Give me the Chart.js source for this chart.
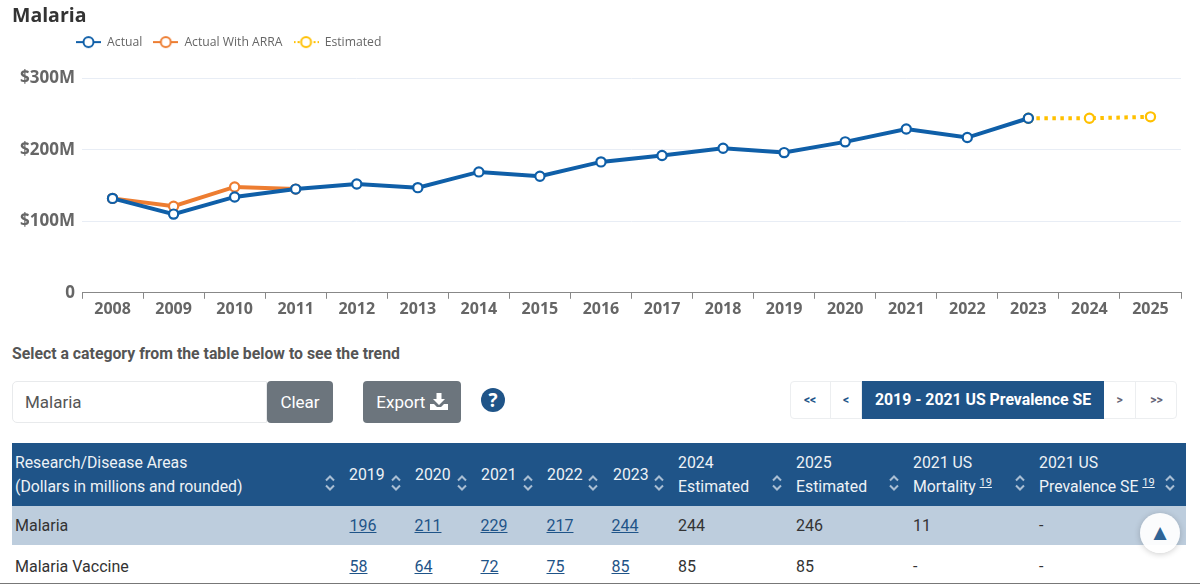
<!DOCTYPE html>
<html><head><meta charset="utf-8">
<script src="https://cdn.jsdelivr.net/npm/chart.js@4"></script>
<style>
html,body{margin:0;padding:0;background:#fff;overflow:hidden}
body{width:1200px;height:584px;position:relative;font-family:Roboto,sans-serif;color:#333}
#cv{position:absolute;left:0;top:0;width:1200px;height:320px}
.a{position:absolute;white-space:nowrap}
#title{left:12px;top:1px;font:700 19.5px "Open Sans",sans-serif;color:#333}
#sel{left:12px;top:344px;font:700 15.8px Roboto;color:#555}
#inp{left:12px;top:381px;width:255px;height:42px;box-sizing:border-box;border:1px solid #e8eaec;border-radius:5px 0 0 5px;font:17px/40px Roboto;padding-left:12px;color:#555}
.btn{background:#6c757d;color:#fff;border-radius:4px;font:17px/42px Roboto;text-align:center;height:42px;top:381px}
#help{left:481px;top:388px;width:24px;height:24px;border-radius:50%;background:#1f5488;color:#fff;font:700 19px/24px "Open Sans";text-align:center}
#pg{left:790px;top:381px;width:387px;height:38px;box-sizing:border-box;border:1px solid #eceef0;border-radius:4px}
.pi{top:381px;height:38px;font:700 12px/38px Roboto;color:#1f5488;text-align:center;border-right:1px solid #eceef0;box-sizing:border-box}
#pact{left:862px;top:381px;width:242px;height:38px;background:#1f5488;color:#fff;font:700 15.8px/37px Roboto;text-align:center}
#head{left:12px;top:443px;width:1174px;height:63px;background:#1f5488}
#r1{left:12px;top:506px;width:1174px;height:39px;background:#bdcddd}
.th{color:#eef2f6;font:15.8px/24px Roboto}
.td{font:16px/20px Roboto;color:#333}
.lnk{color:#1f5488;text-decoration:underline}
sup{font-size:11px;line-height:0;text-decoration:underline}
#top{left:1140px;top:513px;width:40px;height:40px;border-radius:50%;background:rgba(255,255,255,.93);box-shadow:0 1px 6px rgba(0,0,0,.2);color:#2f6496;font:17px/38px "DejaVu Sans";text-align:center}
#bot{left:0;top:583px;width:1200px;height:1px;background:#777}
</style></head><body>
<canvas id="cv" width="1200" height="320"></canvas>
<div id="page"></div>
<script>
const years=["2008","2009","2010","2011","2012","2013","2014","2015","2016","2017","2018","2019","2020","2021","2022","2023","2024","2025"];
const actual=[132,110,134,145,152,147,169,163,183,192,202,196,211,229,217,244,null,null];
const withArra=[132,121,148,145,null,null,null,null,null,null,null,null,null,null,null,null,null,null];
const estimated=[null,null,null,null,null,null,null,null,null,null,null,null,null,null,null,244,244,246];
const yTicks=[0,100,200,300];
const yTickLabels=["0","$100M","$200M","$300M"];
const seriesNames=["Actual","Actual With ARRA","Estimated"];
const rowNames=["Malaria","Malaria Vaccine"];
const row1=["196","211","229","217","244","244","246","11","-"];
const row2=["58","64","72","75","85","85","85","-","-"];

const BLUE="#0f5fa8",ORANGE="#ed7d31",YELLOW="#ffc000";
function legendIcon(color,dash){
  const c=document.createElement('canvas');c.width=25;c.height=14;
  const x=c.getContext('2d');x.strokeStyle=color;x.lineWidth=2;
  if(dash)x.setLineDash([2,2]);
  x.beginPath();x.moveTo(0,7);x.lineTo(25,7);x.stroke();x.setLineDash([]);
  x.fillStyle="#fff";x.beginPath();x.arc(12.5,7,5,0,Math.PI*2);x.fill();x.stroke();
  return c;
}
const moveLegend={id:'moveLegend',afterLayout(ch){const l=ch.legend;const h=l.bottom-l.top;l.left=65;l.right=l.left+500;l.top=25;l.bottom=25+h;}};
new Chart(document.getElementById('cv'),{
  type:'line',
  data:{labels:years,datasets:[
    {label:seriesNames[0],data:actual,borderColor:BLUE,order:0},
    {label:seriesNames[1],data:withArra,borderColor:ORANGE,order:1},
    {label:seriesNames[2],data:estimated,borderColor:YELLOW,order:2,borderDash:[3.5,4.5]}
  ]},
  options:{
    responsive:false,animation:false,spanGaps:false,
    layout:{padding:{top:45,right:19,bottom:0,left:0}},
    elements:{line:{borderWidth:4,tension:0},point:{radius:4.6,borderWidth:2.2,backgroundColor:'#fff',pointStyle:'circle'}},
    plugins:{
      tooltip:{enabled:false},
      legend:{position:'top',align:'start',
        labels:{usePointStyle:true,pointStyleWidth:25,boxHeight:14,padding:11,color:'#666',font:{family:'"Open Sans"',size:12.2},
          generateLabels(ch){return ch.data.datasets.map((d,i)=>({text:d.label,fontColor:'#666',pointStyle:legendIcon(d.borderColor,!!d.borderDash),datasetIndex:i,hidden:false,lineWidth:0,strokeStyle:'transparent',fillStyle:'transparent'}));}
        }
      }
    },
    scales:{
      x:{offset:true,
        grid:{drawOnChartArea:false,drawTicks:true,tickLength:6,color:'#888',offset:true},
        border:{color:'#888',width:1},
        ticks:{color:'#666',font:{family:'"Open Sans"',size:16,weight:'700'},padding:1,maxRotation:0,autoSkip:false}
      },
      y:{min:0,max:300,afterBuildTicks(s){s.ticks=yTicks.map(v=>({value:v}));},
        afterFit(s){s.width=82;},
        grid:{drawTicks:false,color:'#e8edf5',lineWidth:1},
        border:{display:false},
        ticks:{color:'#666',padding:7,font:{family:'"Open Sans"',size:17,weight:'700'},
          callback(v){return yTickLabels[yTicks.indexOf(v)];}}
      }
    }
  },
  plugins:[moveLegend]
});

const heads=[["2019",349,1],["2020",415,1],["2021",481,1],["2022",547,1],["2023",613,1],
 ["2024<br>Estimated",678,2],["2025<br>Estimated",796,2],["2021 US<br>Mortality <sup>19</sup>",913,2],["2021 US<br>Prevalence SE <sup>19</sup>",1039,2]];
const sortX=[330,396,462,528,593,659,777,894,1020,1170];
const colX=[350,415,481,547,612,678,796,913,1039];
function chev(x){return `<svg class="a" style="left:${x-6}px;top:474px" width="12" height="18" viewBox="0 0 12 18"><path d="M2 6.5L6 2.5L10 6.5M2 11.5L6 15.5L10 11.5" fill="none" stroke="#a9bed3" stroke-width="2"/></svg>`;}
let h=`<div class="a" id="title">Malaria</div>
<div class="a" id="sel">Select a category from the table below to see the trend</div>
<div class="a" id="inp">Malaria</div>
<div class="a btn" style="left:267px;width:66px">Clear</div>
<div class="a btn" style="left:363px;width:98px">Export <svg width="18" height="17" viewBox="0 0 18 17" style="vertical-align:-2px"><path d="M6.5 0h5v6h3.5L9 12 3 6h3.5zM0 11h4l3 3h4l3-3h4v6H0z" fill="#fff"/></svg></div>
<div class="a" id="help">?</div>
<div class="a" id="pg"></div>
<div class="a pi" style="left:790px;width:41px">&lt;&lt;</div>
<div class="a pi" style="left:831px;width:31px">&lt;</div>
<div class="a" id="pact">2019 - 2021 US Prevalence SE</div>
<div class="a pi" style="left:1104px;width:32px;color:#667">&gt;</div>
<div class="a pi" style="left:1136px;width:41px;border:0;color:#667">&gt;&gt;</div>
<div class="a" id="head"></div><div class="a" id="r1"></div>
<div class="a th" style="left:15px;top:451px">Research/Disease Areas<br>(Dollars in millions and rounded)</div>`;
heads.forEach(([t,x,n])=>{h+=`<div class="a th" style="left:${x}px;top:${n==1?463:451}px">${t}</div>`;});
sortX.forEach(x=>{h+=chev(x);});
[[rowNames[0],row1,517],[rowNames[1],row2,558]].forEach(([n,r,y])=>{
  h+=`<div class="a td" style="left:15px;top:${y-1}px">${n}</div>`;
  r.forEach((v,i)=>{h+=`<div class="a td ${i<5?'lnk':''}" style="left:${colX[i]-(i<5?0.5:0)}px;top:${y-1}px">${v}</div>`;});
});
h+=`<div class="a" id="top">&#9650;</div><div class="a" id="bot"></div>`;
document.getElementById('page').innerHTML=h;
</script>
</body></html>
